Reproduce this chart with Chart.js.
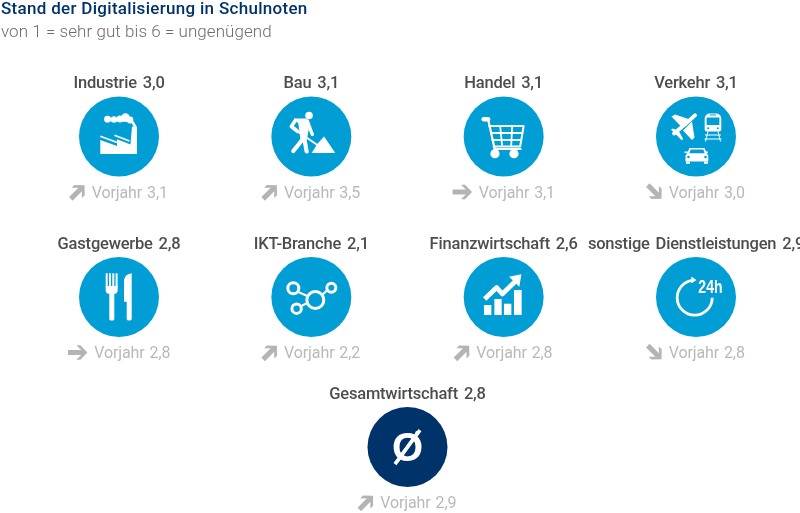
<!DOCTYPE html>
<html>
<head>
<meta charset="utf-8">
<script src="https://cdn.jsdelivr.net/npm/chart.js@4"></script>
<style>
html, body { margin: 0; padding: 0; background: #fff; }
canvas { display: block; }
</style>
</head>
<body>
<canvas id="myChart" width="800" height="513"></canvas>
<script>
// data
const sectors = ["Industrie", "Bau", "Handel", "Verkehr", "Gastgewerbe", "IKT-Branche", "Finanzwirtschaft", "sonstige Dienstleistungen", "Gesamtwirtschaft"];
const grades = [3.0, 3.1, 3.1, 3.1, 2.8, 2.1, 2.6, 2.9, 2.8];
const gradesLastYear = [3.1, 3.5, 3.1, 3.0, 2.8, 2.2, 2.8, 2.8, 2.9];
const titleText = "Stand der Digitalisierung in Schulnoten";
const subtitleText = "von 1 = sehr gut bis 6 = ungenügend";
const lastYearLabel = "Vorjahr";

// layout: grid slot and icon of every sector
const slotCol = [0, 1, 2, 3, 0, 1, 2, 3, 1.5];
const slotRow = [0, 0, 0, 0, 1, 1, 1, 1, 1.935];
const icons = ["factory", "worker", "cart", "transport", "cutlery", "network", "finance", "clock", "average"];

const BLUE = "#009ed5";
const NAVY = "#00336a";
const FONT = "Roboto, 'Noto Sans', sans-serif";

function comma(v) { return v.toFixed(1).replace(".", ","); }

function poly(ctx, pts) {
  ctx.beginPath();
  pts.forEach((p, i) => i ? ctx.lineTo(p[0], p[1]) : ctx.moveTo(p[0], p[1]));
  ctx.closePath();
  ctx.fill();
}
function line(ctx, pts, w, cap) {
  ctx.lineWidth = w;
  ctx.lineCap = cap || "round";
  ctx.lineJoin = "round";
  ctx.beginPath();
  pts.forEach((p, i) => i ? ctx.lineTo(p[0], p[1]) : ctx.moveTo(p[0], p[1]));
  ctx.stroke();
}
function dot(ctx, x, y, r) {
  ctx.beginPath();
  ctx.arc(x, y, r, 0, Math.PI * 2);
  ctx.fill();
}
function ring(ctx, x, y, r, w) {
  ctx.lineWidth = w;
  ctx.beginPath();
  ctx.arc(x, y, r, 0, Math.PI * 2);
  ctx.stroke();
}

// icons are drawn around the circle centre, white on blue
const drawIcon = {
  factory(ctx) {
    poly(ctx, [[-18.7, 17.5], [18, 17.5], [18, -10], [13, -10], [11.5, 8], [-2, 2.8], [-2, 9.5], [-18.7, 3.5]]);
    line(ctx, [[-18.7, -0.2], [-1, 6.3]], 1.6, "butt");
    line(ctx, [[-4.5, -1.2], [10.5, 4.6]], 1.6, "butt");
    dot(ctx, -11.5, -17.3, 3.4);
    dot(ctx, -5, -17, 3.2);
    dot(ctx, 1, -17.5, 3.6);
    dot(ctx, 6.5, -19, 4.2);
    dot(ctx, 11, -16.5, 3.4);
    line(ctx, [[-11, -17], [11, -16.5]], 3.5, "round");
    line(ctx, [[13, -15], [16, -10.5]], 2.5);
  },
  worker(ctx) {
    dot(ctx, -2.3, -21, 3.8);
    poly(ctx, [[-17.5, -18], [-5, -18], [-1.5, -12], [-4.5, 3], [-11, 3], [-12, -6], [-13, -13]]);
    line(ctx, [[-16, -16], [-20, -10], [-13.5, -5]], 3.6);
    line(ctx, [[-4, -15.5], [1, -2]], 3.4);
    line(ctx, [[-13.5, -5], [6, 8.5]], 1.8);
    line(ctx, [[-8, 2], [-18, 14.5]], 4.2);
    line(ctx, [[-7, 2], [-4.7, 15]], 4.2);
    poly(ctx, [[12.7, 0], [24, 16.5], [0.3, 16.5], [6, 7.5]]);
  },
  cart(ctx) {
    line(ctx, [[-20, -17.2], [-15.5, -17.2]], 4.4);
    line(ctx, [[-15.5, -17], [-9, 12.5], [17, 12.5]], 2.2);
    line(ctx, [[-14.5, -10.5], [20, -10.5], [16.5, 10], [-10, 10]], 2);
    line(ctx, [[-13.5, -3.5], [19, -3.5]], 1.8, "butt");
    line(ctx, [[-12, 3.5], [17.5, 3.5]], 1.8, "butt");
    line(ctx, [[-3.5, -10.5], [-1.5, 10]], 1.8, "butt");
    line(ctx, [[8.5, -10.5], [7.5, 10]], 1.8, "butt");
    dot(ctx, -8.7, 17.2, 4.6);
    dot(ctx, 10.3, 17.2, 4.6);
  },
  transport(ctx) {
    // plane
    line(ctx, [[-0.8, -21.3], [-10, -13], [-22, -3]], 3.8);
    poly(ctx, [[-24.5, -20], [-21, -22], [-6, -17], [-14, -9]]);
    poly(ctx, [[-4, 3.5], [-1.5, 1], [-4, -15], [-13, -6]]);
    poly(ctx, [[-25, -7], [-23, -8], [-17, -5], [-13, 2], [-14, 4], [-20, -2]]);
    // train
    ctx.beginPath();
    ctx.roundRect(8.7, -23, 16.6, 18, [5, 5, 2, 2]);
    ctx.fill();
    ctx.fillStyle = BLUE;
    ctx.fillRect(10.6, -19, 12.8, 7.5);
    ctx.fillRect(14, -22, 6, 1);
    dot(ctx, 12.2, -8.2, 1);
    dot(ctx, 21.8, -8.2, 1);
    ctx.fillStyle = "#fff";
    line(ctx, [[12, -5], [9.5, 5]], 1, "butt");
    line(ctx, [[22, -5], [24.5, 5]], 1, "butt");
    line(ctx, [[9, -1.5], [25, -1.5]], 1, "butt");
    line(ctx, [[8.5, 2.5], [25.5, 2.5]], 1, "butt");
    // car
    poly(ctx, [[-6.5, 11.5], [8.5, 11.5], [11, 17], [12.3, 19], [12.3, 25], [-10.5, 25], [-10.5, 19], [-9, 17]]);
    ctx.fillRect(-10, 25, 4, 2.3);
    ctx.fillRect(8, 25, 4, 2.3);
    ctx.fillRect(-11.5, 15, 23.5, 1.4);
    ctx.fillStyle = BLUE;
    poly(ctx, [[-5.3, 13], [7.3, 13], [8.7, 16.7], [-6.7, 16.7]]);
    dot(ctx, -7.5, 20.5, 1.3);
    dot(ctx, 9.5, 20.5, 1.3);
  },
  cutlery(ctx) {
    for (let i = 0; i < 4; i++) ctx.fillRect(-13.3 + i * 3.3, -23.7, 2, 14);
    ctx.beginPath();
    ctx.roundRect(-13.3, -11, 12, 8, [0, 0, 4, 4]);
    ctx.fill();
    ctx.beginPath();
    ctx.roundRect(-9.7, -6, 5, 29.5, 1.5);
    ctx.fill();
    ctx.beginPath();
    ctx.moveTo(5, 4.7);
    ctx.lineTo(5, -17);
    ctx.quadraticCurveTo(6, -23, 12.7, -23.7);
    ctx.lineTo(12.7, 22);
    ctx.quadraticCurveTo(12.7, 23.5, 10.2, 23.5);
    ctx.quadraticCurveTo(7.7, 23.5, 7.7, 22);
    ctx.lineTo(7.7, 4.7);
    ctx.closePath();
    ctx.fill();
  },
  network(ctx) {
    line(ctx, [[-12, -4.5], [-4, -1]], 2);
    line(ctx, [[15, -6], [11, -2]], 2);
    line(ctx, [[-9, 8.5], [-4, 6]], 2);
    ring(ctx, -18, -8.7, 5.5, 3);
    ring(ctx, 20, -9.3, 4.5, 3);
    ring(ctx, -14.7, 11.7, 4.7, 3);
    ring(ctx, 4, 3, 8.5, 3);
  },
  finance(ctx) {
    ctx.fillRect(-19.7, 8, 7.4, 10);
    ctx.fillRect(-9.3, 2, 7.3, 16);
    ctx.fillRect(0.3, 6.7, 7.4, 11.3);
    ctx.fillRect(10.3, -7, 7.7, 25);
    line(ctx, [[-19, 2], [-7, -9.5], [-1.3, -3], [12, -16]], 4.8, "butt");
    poly(ctx, [[17.7, -22.7], [5.3, -20.3], [15.7, -10.3]]);
  },
  clock(ctx) {
    ctx.lineWidth = 2.8;
    ctx.lineCap = "butt";
    ctx.beginPath();
    ctx.arc(-1.3, 0.7, 17.5, 0, Math.PI * 1.46);
    ctx.stroke();
    poly(ctx, [[-4.7, -20.5], [0.5, -17], [-4.7, -13.5]]);
    ctx.font = "bold 18px 'Liberation Sans', sans-serif";
    ctx.textAlign = "left";
    ctx.textBaseline = "alphabetic";
    ctx.translate(2.3, -4.3);
    ctx.scale(0.78, 1);
    ctx.fillText("24h", 0, 0);
  },
  average(ctx) {
    ctx.font = "bold 40px 'Liberation Sans', sans-serif";
    ctx.textAlign = "center";
    ctx.textBaseline = "alphabetic";
    ctx.fillText("Ø", 0, 14);
    line(ctx, [[-12.5, 17], [12.5, -17]], 3.6, "butt");
  }
};

// trend arrow: lower grade = better, so it points up when the grade went down
function drawTrend(ctx, x, y, diff) {
  ctx.save();
  ctx.translate(x, y);
  ctx.rotate(diff < 0 ? -Math.PI / 4 : diff > 0 ? Math.PI / 4 : 0);
  ctx.fillStyle = "#b4b4b4";
  poly(ctx, [[9.7, 0], [2.7, 7.2], [-1.3, 7.2], [3.5, 2.5], [-9.7, 2.5], [-9.7, -2.5], [3.5, -2.5], [-1.3, -7.2], [2.7, -7.2]]);
  ctx.restore();
}

const textPlugin = {
  id: "schoolGrades",
  afterDatasetsDraw(chart) {
    const ctx = chart.ctx;
    const points = chart.getDatasetMeta(0).data;
    ctx.save();
    ctx.textBaseline = "alphabetic";

    ctx.textAlign = "left";
    ctx.fillStyle = NAVY;
    ctx.font = "500 17px " + FONT;
    ctx.letterSpacing = "0.3px";
    ctx.fillText(titleText, 1, 13.5);
    ctx.fillStyle = "#6e6e6e";
    ctx.font = "300 17px " + FONT;
    ctx.letterSpacing = "0.05px";
    ctx.fillText(subtitleText, 1, 36.5);

    points.forEach((pt, i) => {
      ctx.save();
      ctx.textAlign = "center";
      ctx.fillStyle = "#4d4d4d";
      ctx.font = "500 16.5px " + FONT;
      ctx.letterSpacing = "-0.2px";
      ctx.wordSpacing = "2px";
      ctx.fillText(sectors[i] + " " + comma(grades[i]), pt.x, pt.y - 48.5);

      // arrow + Vorjahr line, centred as a group under the circle
      const diff = grades[i] - gradesLastYear[i];
      const arrowW = Math.abs(diff) < 0.001 ? 20 : 15;
      ctx.font = "400 16px " + FONT;
      ctx.letterSpacing = "-0.1px";
      ctx.wordSpacing = "1px";
      const label = lastYearLabel + " " + comma(gradesLastYear[i]);
      const textW = ctx.measureText(label).width;
      const left = pt.x - (arrowW + 6.5 + textW) / 2;
      drawTrend(ctx, left + arrowW / 2, pt.y + 55.5, Math.abs(diff) < 0.001 ? 0 : diff);
      ctx.textAlign = "left";
      ctx.fillStyle = "#b9b9b9";
      ctx.fillText(label, left + arrowW + 6.5, pt.y + 61);
      ctx.restore();

      ctx.save();
      ctx.translate(pt.x, pt.y);
      ctx.fillStyle = "#fff";
      ctx.strokeStyle = "#fff";
      drawIcon[icons[i]](ctx);
      ctx.restore();
    });
    ctx.restore();
  }
};

// one grid step in pixels, used to place the slots on the full canvas
const colStep = 192.33, rowStep = 160.5;
const firstX = 119, firstY = 136.5;

new Chart(document.getElementById("myChart").getContext("2d"), {
  type: "scatter",
  data: {
    labels: sectors,
    datasets: [{
      data: sectors.map((s, i) => ({ x: slotCol[i], y: slotRow[i] })),
      pointRadius: 40,
      pointHoverRadius: 40,
      pointBorderWidth: 0,
      pointBackgroundColor: sectors.map((s, i) => icons[i] === "average" ? NAVY : BLUE)
    }]
  },
  options: {
    responsive: false,
    animation: false,
    layout: { padding: 0, autoPadding: false },
    plugins: { legend: { display: false }, tooltip: { enabled: false } },
    scales: {
      x: { type: "linear", display: false, min: -firstX / colStep, max: (800 - firstX) / colStep },
      y: { type: "linear", display: false, reverse: true, min: -firstY / rowStep, max: (513 - firstY) / rowStep }
    }
  },
  plugins: [textPlugin]
});
</script>
</body>
</html>
